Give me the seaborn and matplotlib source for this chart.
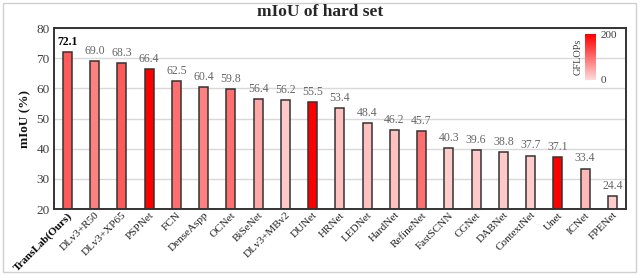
import pandas as pd
import matplotlib
matplotlib.use("Agg")
import matplotlib.pyplot as plt
import seaborn as sns
from matplotlib.colors import LinearSegmentedColormap, Normalize
from matplotlib.cm import ScalarMappable
from matplotlib.patches import Rectangle

# chart data
models = ["TransLab(Ours)", "DLv3+R50", "DLv3+XP65", "PSPNet", "FCN", "DenseAspp",
          "OCNet", "BiSeNet", "DLv3+MBv2", "DUNet", "HRNet", "LEDNet", "HardNet",
          "RefineNet", "FastSCNN", "CGNet", "DABNet", "ContextNet", "Unet",
          "ICNet", "FPENet"]
miou = [72.1, 69.0, 68.3, 66.4, 62.5, 60.4, 59.8, 56.4, 56.2, 55.5, 53.4,
        48.4, 46.2, 45.7, 40.3, 39.6, 38.8, 37.7, 37.1, 33.4, 24.4]
# estimated from bar shading
gflops = [117, 82, 117, 200, 97, 82, 97, 45, 15, 200, 23, 23, 23, 97, 12,
          15, 15, 12, 200, 32, 12]

sns.set_theme(style="white")
plt.rcParams["font.family"] = ["Liberation Serif", "DejaVu Serif"]

cmap = LinearSegmentedColormap.from_list("gf", ["#ffd9d9", "#ff0000"])
norm = Normalize(0, 200)
colors = [cmap(norm(g)) for g in gflops]

df = pd.DataFrame({"model": models, "miou": miou})

fig = plt.figure(figsize=(6.4, 2.75), dpi=100)
fig.patches.append(Rectangle((0.004, 0.012), 0.99, 0.978, transform=fig.transFigure,
                             fill=False, edgecolor="#d0d0d0", linewidth=1))
ax = fig.add_axes([0.084, 0.24, 0.894, 0.658])

sns.barplot(data=df, x="model", y="miou", hue="model", palette=colors,
            saturation=1, legend=False, width=0.33, edgecolor="#333333",
            linewidth=1.1, ax=ax)

ax.set_ylim(20, 80)
ax.set_xlim(-0.5, len(models) - 0.5)
ax.set_yticks(range(20, 81, 10))
ax.yaxis.grid(True, color="#d9d9d9", linewidth=1)
ax.set_axisbelow(True)
for s in ax.spines.values():
    s.set_color("#333333")
    s.set_linewidth(1.4)

ax.set_xlabel("")
ax.set_ylabel("mIoU (%)", fontsize=9.5, fontweight="bold", color="#111111")
ax.tick_params(axis="y", labelsize=9.5, colors="#404040", length=0, pad=3)
ax.tick_params(axis="x", length=0, pad=1)
ax.set_xticks(range(len(models)))
ax.set_xticklabels(models, rotation=45, ha="right", rotation_mode="anchor",
                   fontsize=8, color="#222222")
ax.get_xticklabels()[0].set_fontweight("bold")
ax.get_xticklabels()[0].set_color("black")

for c in ax.containers:
    ax.bar_label(c, fmt="%.1f", padding=3, fontsize=8.5, color="#666666")
for t in ax.texts:
    if t.get_text() == "72.1":
        t.set_fontweight("bold")
        t.set_color("black")

fig.suptitle("mIoU of hard set", x=0.5, y=0.985, fontsize=12.5, fontweight="bold")

cax = fig.add_axes([0.914, 0.71, 0.017, 0.165])
cb = fig.colorbar(ScalarMappable(norm=norm, cmap=cmap), cax=cax, ticks=[0, 200])
cb.outline.set_visible(False)
cax.tick_params(labelsize=8, length=0, colors="#404040")
cax.yaxis.set_label_position("left")
cax.set_ylabel("GFLOPs", fontsize=7.5, color="#404040", labelpad=2)

fig.savefig("out.png", dpi=100)
